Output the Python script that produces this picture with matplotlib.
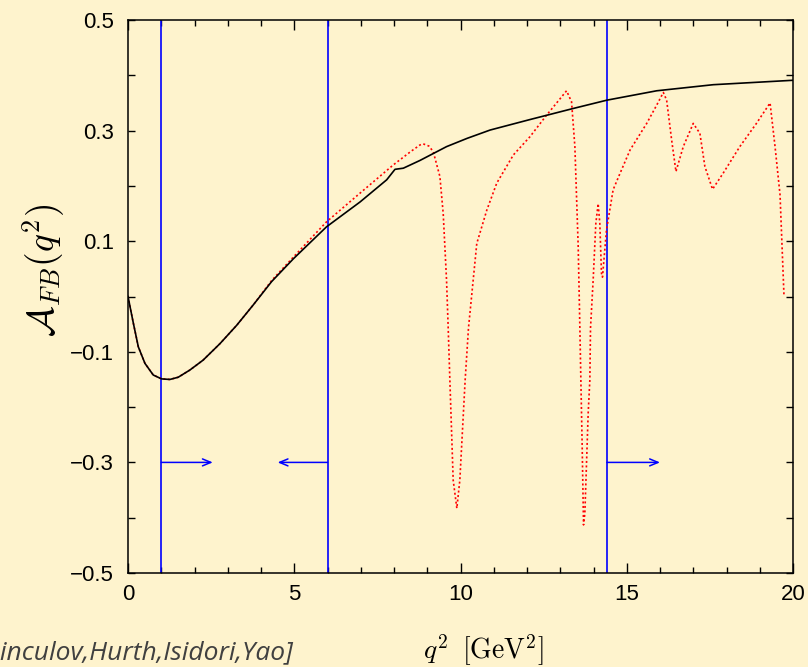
import matplotlib
matplotlib.use('Agg')
import matplotlib.pyplot as plt
from matplotlib.ticker import MultipleLocator, FixedLocator

plt.rcParams['mathtext.fontset'] = 'cm'
plt.rcParams['font.family'] = ['Liberation Sans', 'DejaVu Sans']

bg = '#fef3cd'

# SM forward-backward asymmetry (solid black)
q2_sm = [0, 0.16, 0.31, 0.51, 0.76, 1.01, 1.26, 1.51, 1.86, 2.26, 2.77, 3.27,
         3.77, 4.32, 4.97, 5.97, 6.98, 7.78, 8.03, 8.28, 8.78, 9.58, 10.2,
         10.89, 12.09, 13.39, 14.4, 15.9, 17.6, 20]
afb_sm = [0.0, -0.048, -0.091, -0.121, -0.142, -0.149, -0.150, -0.146, -0.133,
          -0.115, -0.085, -0.052, -0.015, 0.027, 0.068, 0.126, 0.171, 0.211,
          0.230, 0.232, 0.246, 0.271, 0.286, 0.301, 0.320, 0.340, 0.355,
          0.372, 0.383, 0.391]

# with charmonium resonances (red dotted)
q2_res = [0, 0.16, 0.31, 0.51, 0.76, 1.01, 1.26, 1.51, 1.86, 2.26, 2.77, 3.27,
          3.77, 4.32, 4.97, 5.97, 6.98, 7.98, 8.5, 8.78, 8.88, 9.05, 9.18,
          9.38, 9.48, 9.58, 9.63, 9.68, 9.78, 9.89, 9.98, 10.14, 10.24, 10.49,
          10.79, 11.09, 11.59, 12.09, 12.59, 13.0, 13.19, 13.34, 13.44, 13.54,
          13.59, 13.62, 13.66, 13.70, 13.74, 13.84, 13.89, 13.91, 13.99,
          14.07, 14.14, 14.19, 14.24, 14.27, 14.39, 14.59, 14.8, 15.1, 15.6,
          15.9, 16.1, 16.2, 16.35, 16.48, 16.7, 17.0, 17.2, 17.35, 17.58,
          17.9, 18.4, 18.9, 19.31, 19.46, 19.61, 19.73]
afb_res = [0.0, -0.048, -0.091, -0.121, -0.142, -0.149, -0.150, -0.146, -0.133,
           -0.115, -0.085, -0.052, -0.015, 0.029, 0.071, 0.135, 0.187, 0.238,
           0.262, 0.274, 0.276, 0.272, 0.262, 0.217, 0.150, 0.030, -0.057,
           -0.151, -0.332, -0.383, -0.332, -0.151, -0.057, 0.096, 0.156,
           0.205, 0.256, 0.289, 0.328, 0.358, 0.372, 0.352, 0.271, 0.090,
           -0.057, -0.151, -0.272, -0.413, -0.392, -0.211, -0.151, -0.057,
           0.030, 0.132, 0.168, 0.132, 0.042, 0.035, 0.120, 0.193, 0.223,
           0.265, 0.313, 0.346, 0.369, 0.355, 0.283, 0.226, 0.271, 0.313,
           0.295, 0.235, 0.194, 0.223, 0.271, 0.313, 0.350, 0.271, 0.184, 0.0]

# q^2 cuts and arrows
cuts = [1.0, 6.0, 14.4]
arrow_tips = [2.55, 4.5, 16.0]
arrow_y = -0.3

fig = plt.figure(figsize=(8.08, 6.67), dpi=100, facecolor=bg)
ax = fig.add_axes([128/808, 1 - 573/667, 665/808, 553/667])
ax.set_facecolor(bg)

for c in cuts:
    ax.axvline(c, color='#0000ff', lw=1.2)
for c, t in zip(cuts, arrow_tips):
    ax.annotate('', xy=(t, arrow_y), xytext=(c, arrow_y),
                arrowprops=dict(arrowstyle='->,head_length=0.6,head_width=0.25',
                                color='#0000ff', lw=1.1, shrinkA=0, shrinkB=0))

ax.plot(q2_res, afb_res, color='#ff0000', lw=1.2, linestyle=(0, (1.2, 1.5)))
ax.plot(q2_sm, afb_sm, color='black', lw=1.2)

ax.set_xlim(0, 20)
ax.set_ylim(-0.5, 0.5)
ax.xaxis.set_major_locator(MultipleLocator(5))
ax.xaxis.set_minor_locator(MultipleLocator(1))
ax.yaxis.set_major_locator(FixedLocator([-0.5, -0.3, -0.1, 0.1, 0.3, 0.5]))
ax.yaxis.set_minor_locator(FixedLocator([-0.4, -0.2, 0.0, 0.2, 0.4]))
ax.set_yticklabels(['\u22120.5', '\u22120.3', '\u22120.1', '0.1', '0.3', '0.5'])
ax.tick_params(which='both', direction='in', top=True, right=True,
               labelsize=16, width=1)
ax.tick_params(axis='x', which='major', length=7, pad=8)
ax.tick_params(axis='x', which='minor', length=4)
ax.tick_params(axis='y', which='both', length=5, pad=10)
for s in ax.spines.values():
    s.set_linewidth(1.1)

fig.text(483/808, 1 - 650/667, r'$q^2\;\;[\mathrm{GeV}^2]$', fontsize=20,
         ha='center', va='center')
fig.text(44/808, 1 - 270/667, r'$\mathcal{A}_{FB}(q^2)$', fontsize=27,
         ha='center', va='center', rotation=90)
# attribution runs off the left edge, as on the original slide
fig.text(293/808, 1 - 659/667, '[Ghinculov,Hurth,Isidori,Yao]', fontsize=19,
         style='italic', color='#404040', ha='right', va='baseline',
         family=['Open Sans', 'DejaVu Sans'])

fig.savefig('out.png', dpi=100, facecolor=bg)
